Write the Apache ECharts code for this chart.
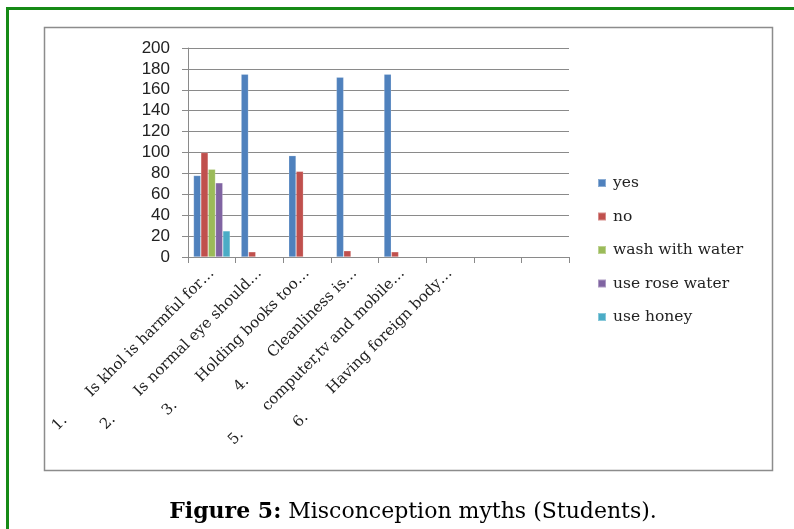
<!DOCTYPE html>
<html>
<head>
<meta charset="utf-8">
<script src="https://cdn.jsdelivr.net/npm/echarts@6/dist/echarts.min.js"></script>
<style>
  html, body { margin: 0; padding: 0; background: #ffffff; }
  #chart { width: 794px; height: 529px; }
</style>
</head>
<body>
<div id="chart"></div>
<script>
// Question labels along the x axis (last two slots are empty)
const categories = [
  '1.       Is khol is harmful for\u2026',
  '2.       Is normal eye should\u2026',
  '3.       Holding books too\u2026',
  '4.       Cleanliness is\u2026',
  '5.       computer,tv and mobile\u2026',
  '6.       Having foreign body\u2026',
  '',
  ''
];

const seriesNames = ['yes', 'no', 'wash with water', 'use rose water', 'use honey'];

const yesValues   = [78, 175, 97, 172, 175, null, null, null];
const noValues    = [100, 5, 82, 6, 5, null, null, null];
const washValues  = [84, null, null, null, null, null, null, null];
const roseValues  = [71, null, null, null, null, null, null, null];
const honeyValues = [25, null, null, null, null, null, null, null];

const yTicks = { min: 0, max: 200, interval: 20 };

const colors = ['#4F81BD', '#C0504D', '#9BBB59', '#8064A2', '#4BACC6'];
const valueSets = [yesValues, noValues, washValues, roseValues, honeyValues];

const chart = echarts.init(document.getElementById('chart'), null, { renderer: 'canvas' });

const serifFont = '"DejaVu Serif", "Liberation Serif", serif';

chart.setOption({
  animation: false,
  color: colors,
  title: {
    text: '{b|Figure 5:} Misconception myths (Students).',
    left: 408,
    textAlign: 'center',
    top: 496,
    textStyle: {
      rich: {
        b: { fontFamily: serifFont, fontSize: 22, fontWeight: 'bold', color: '#000' }
      },
      fontFamily: serifFont,
      fontSize: 22,
      fontWeight: 'normal',
      color: '#000'
    }
  },
  legend: {
    orient: 'vertical',
    left: 592,
    top: 170,
    itemWidth: 8,
    itemHeight: 8,
    itemGap: 17.5,
    icon: 'rect',
    textStyle: { fontFamily: serifFont, fontSize: 15.5, lineHeight: 16, color: '#222', padding: [0, 0, 0, 2] },
    data: seriesNames
  },
  grid: { left: 188, right: 225, top: 48, bottom: 272, containLabel: false },
  xAxis: {
    type: 'category',
    data: categories,
    axisLine: { lineStyle: { color: '#8a8a8a', width: 1 } },
    axisTick: { show: true, length: 6, lineStyle: { color: '#8a8a8a' } },
    axisLabel: {
      interval: 0,
      rotate: 45,
      margin: 14,
      fontFamily: serifFont,
      fontSize: 15,
      color: '#222'
    }
  },
  yAxis: {
    type: 'value',
    min: yTicks.min,
    max: yTicks.max,
    interval: yTicks.interval,
    axisLine: { show: true, lineStyle: { color: '#8a8a8a', width: 1 } },
    axisTick: { show: true, length: 6, lineStyle: { color: '#8a8a8a' } },
    axisLabel: {
      margin: 18,
      fontFamily: '"Liberation Sans", Arial, sans-serif',
      fontSize: 17,
      color: '#222'
    },
    splitLine: { lineStyle: { color: '#8a8a8a', width: 1 } }
  },
  series: seriesNames.map((name, i) => ({
    name: name,
    type: 'bar',
    data: valueSets[i],
    barGap: '0%',
    barCategoryGap: '23%',
    itemStyle: { color: colors[i], borderColor: 'rgba(255,255,255,0.35)', borderWidth: 0.6 }
  })),
  graphic: [
    // green frame: top and left edges
    { type: 'rect', shape: { x: 6, y: 7, width: 800, height: 3 }, style: { fill: '#168a16' }, silent: true },
    { type: 'rect', shape: { x: 6, y: 7, width: 3, height: 530 }, style: { fill: '#168a16' }, silent: true },
    // chart box
    { type: 'rect', shape: { x: 44.5, y: 27.5, width: 728, height: 443 },
      style: { fill: 'none', stroke: '#8c8c8c', lineWidth: 1.5 }, silent: true, z: -1 }
  ]
});
</script>
</body>
</html>
